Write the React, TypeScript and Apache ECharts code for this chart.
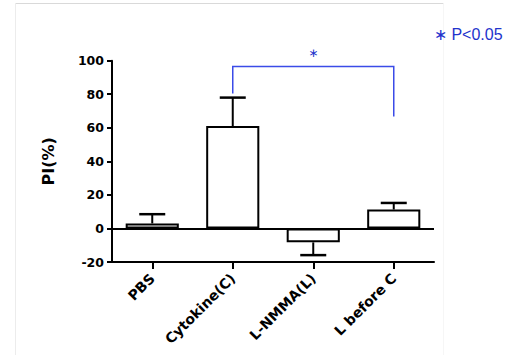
import React, { useEffect, useRef } from "react";
import * as echarts from "echarts";

const categories = ["PBS", "Cytokine(C)", "L-NMMA(L)", "L before C"];
const means = [3, 61, -8.3, 11.3];
const errorEnds = [8.5, 78, -15.9, 15.2];
const yTicks = { min: -20, max: 100, interval: 20 };
// significance bracket: between category 1 and 3
const bracket = { from: 1, to: 3, top: 96.6, leftEnd: 80.5, rightEnd: 66.8, starY: 104.5 };
const legendText = "∗ P<0.05";

export default function App() {
  const ref = useRef<HTMLDivElement>(null);
  useEffect(() => {
    if (!ref.current) return;
    const chart = echarts.init(ref.current, null, { renderer: "svg" });
    const font = "'DejaVu Sans', sans-serif";
    const arial = "'Liberation Sans', Arial, sans-serif";
    const blue = "#3b4be8";
    chart.setOption({
      animation: false,
      backgroundColor: "#ffffff",
      grid: { left: 112, right: 75, top: 60.7, bottom: 93, containLabel: false },
      xAxis: {
        type: "category",
        data: categories,
        boundaryGap: true,
        axisLine: { show: true, onZero: false, lineStyle: { color: "#000", width: 2 } },
        axisTick: { show: true, alignWithLabel: true, length: 7, lineStyle: { color: "#000", width: 2 } },
        axisLabel: {
          rotate: 45,
          margin: 14,
          color: "#000",
          fontWeight: "bold",
          fontSize: 14,
          fontFamily: font,
        },
        splitLine: { show: false },
      },
      yAxis: {
        type: "value",
        min: yTicks.min,
        max: yTicks.max,
        interval: yTicks.interval,
        name: "PI(%)",
        nameLocation: "middle",
        nameGap: 56,
        nameRotate: 90,
        nameTextStyle: { color: "#000", fontWeight: "bold", fontSize: 16, fontFamily: font },
        axisLine: { show: true, onZero: false, lineStyle: { color: "#000", width: 2 } },
        axisTick: { show: true, length: 5, lineStyle: { color: "#000", width: 2 } },
        axisLabel: { color: "#000", fontWeight: "bold", fontSize: 12.5, fontFamily: font, margin: 8 },
        splitLine: { show: false },
      },
      series: [
        {
          type: "bar",
          data: means,
          barWidth: "66%",
          itemStyle: { color: "#fff", borderColor: "#000", borderWidth: 2 },
          markLine: {
            silent: true,
            symbol: ["none", "none"],
            label: { show: false },
            lineStyle: { color: "#000", width: 2, type: "solid" },
            data: [{ yAxis: 0 }],
          },
          z: 2,
        },
        {
          type: "custom",
          data: means.map((m, i) => [i, m, errorEnds[i]]),
          renderItem: (params: any, api: any) => {
            const x = api.value(0);
            const p0 = api.coord([x, api.value(1)]);
            const p1 = api.coord([x, api.value(2)]);
            const half = 13;
            return {
              type: "group",
              children: [
                { type: "line", shape: { x1: p0[0], y1: p0[1], x2: p1[0], y2: p1[1] }, style: { stroke: "#000", lineWidth: 2 } },
                { type: "line", shape: { x1: p1[0] - half, y1: p1[1], x2: p1[0] + half, y2: p1[1] }, style: { stroke: "#000", lineWidth: 2.5 } },
              ],
            };
          },
          z: 3,
        },
        {
          type: "custom",
          clip: false,
          data: [[bracket.from, bracket.to, bracket.top, bracket.leftEnd, bracket.rightEnd, bracket.starY]],
          renderItem: (params: any, api: any) => {
            const a = api.value(0), b = api.value(1);
            const pl = api.coord([a, api.value(3)]);
            const tl = api.coord([a, api.value(2)]);
            const tr = api.coord([b, api.value(2)]);
            const pr = api.coord([b, api.value(4)]);
            const star = api.coord([(a + b) / 2, api.value(5)]);
            return {
              type: "group",
              children: [
                {
                  type: "polyline",
                  shape: { points: [pl, tl, tr, pr] },
                  style: { stroke: blue, lineWidth: 1.5, fill: "none" },
                },
                {
                  type: "text",
                  x: star[0],
                  y: star[1],
                  style: { text: "∗", fill: "#2233cc", fontSize: 12, fontFamily: font, align: "center", verticalAlign: "middle" },
                },
              ],
            };
          },
          z: 4,
        },
      ],
      graphic: [
        { type: "line", shape: { x1: 15.5, y1: 3.5, x2: 443.5, y2: 3.5 }, style: { stroke: "#d9d9d9", lineWidth: 1 } },
        { type: "line", shape: { x1: 15.5, y1: 3.5, x2: 15.5, y2: 355 }, style: { stroke: "#ececec", lineWidth: 1 } },
        { type: "line", shape: { x1: 443.5, y1: 3.5, x2: 443.5, y2: 355 }, style: { stroke: "#f6f6f6", lineWidth: 1 } },
        {
          type: "text",
          left: 434,
          top: 26,
          style: { text: legendText, fill: "#2233cc", fontSize: 16, fontFamily: arial },
        },
      ],
    });
    return () => chart.dispose();
  }, []);
  return (
    <div
      ref={ref}
      style={{ position: "fixed", left: 0, top: 0, width: 509, height: 355, background: "#fff" }}
    />
  );
}
